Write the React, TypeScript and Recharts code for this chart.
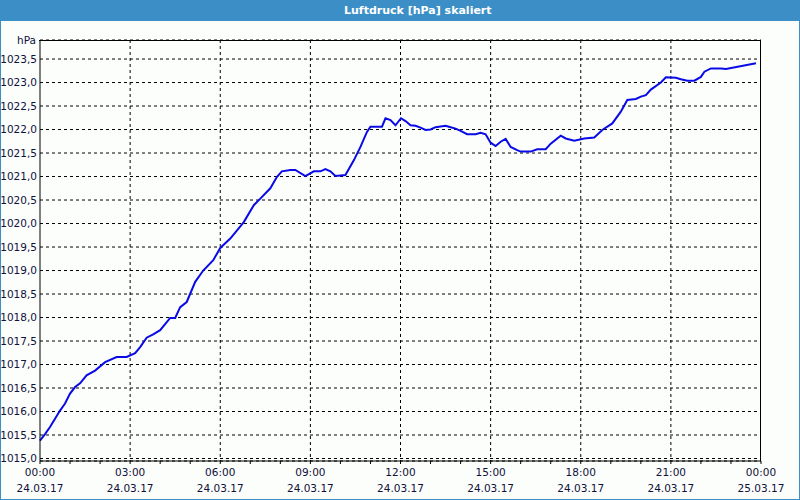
import React from 'react'
import { LineChart, XAxis, YAxis, CartesianGrid, Line } from 'recharts'

// minutes since 24.03.17 00:00
const minutes = [
  0, 10, 20, 40, 50, 60, 70, 80, 93, 110, 130, 153, 173, 190, 200, 213, 226, 240,
  260, 270, 280, 293, 310, 326, 346, 360, 380, 407, 427, 440, 460, 473, 483, 500,
  510, 530, 547, 560, 570, 580, 590, 610, 627, 640, 653, 660, 683, 690, 700, 710,
  721, 730, 740, 750, 760, 770, 780, 790, 810, 820, 830, 840, 853, 870, 880, 890,
  900, 910, 920, 930, 940, 953, 960, 980, 993, 1010, 1020, 1040, 1050, 1067, 1087,
  1107, 1123, 1143, 1160, 1173, 1190, 1200, 1210, 1220, 1240, 1250, 1270, 1280,
  1293, 1307, 1320, 1327, 1340, 1360, 1370, 1430,
]

const pressure = [
  1015.38, 1015.52, 1015.67, 1016.02, 1016.17, 1016.38, 1016.52, 1016.6, 1016.77,
  1016.87, 1017.05, 1017.16, 1017.16, 1017.24, 1017.37, 1017.57, 1017.64, 1017.73,
  1017.99, 1017.99, 1018.22, 1018.33, 1018.76, 1019.0, 1019.22, 1019.48, 1019.68,
  1020.03, 1020.39, 1020.53, 1020.75, 1020.99, 1021.11, 1021.14, 1021.14, 1021.01,
  1021.11, 1021.11, 1021.16, 1021.11, 1021.01, 1021.03, 1021.35, 1021.63, 1021.95,
  1022.06, 1022.06, 1022.24, 1022.2, 1022.09, 1022.24, 1022.18, 1022.09, 1022.08,
  1022.04, 1021.99, 1022.0, 1022.05, 1022.08, 1022.05, 1022.02, 1021.97, 1021.9,
  1021.9, 1021.93, 1021.9, 1021.72, 1021.65, 1021.74, 1021.8, 1021.63, 1021.56,
  1021.53, 1021.53, 1021.58, 1021.58, 1021.7, 1021.87, 1021.81, 1021.76, 1021.81,
  1021.83, 1021.99, 1022.13, 1022.38, 1022.63, 1022.65, 1022.7, 1022.73, 1022.85,
  1023.0, 1023.11, 1023.1, 1023.07, 1023.04, 1023.04, 1023.12, 1023.23, 1023.3,
  1023.3, 1023.29, 1023.41, 1023.39, 1023.46, 1023.48,
]

const yTicks = [
  1015.0, 1015.5, 1016.0, 1016.5, 1017.0, 1017.5, 1018.0, 1018.5, 1019.0,
  1019.5, 1020.0, 1020.5, 1021.0, 1021.5, 1022.0, 1022.5, 1023.0, 1023.5,
]

const hourTicks = [
  0, 60, 120, 180, 240, 300, 360, 420, 480, 540, 600, 660, 720, 780, 840, 900,
  960, 1020, 1080, 1140, 1200, 1260, 1320, 1380, 1440,
]
const gridMinutes = [180, 360, 540, 720, 900, 1080, 1260]
const tickTimes = ['00:00', '03:00', '06:00', '09:00', '12:00', '15:00', '18:00', '21:00', '00:00']
const tickDates = ['24.03.17', '24.03.17', '24.03.17', '24.03.17', '24.03.17', '24.03.17', '24.03.17', '24.03.17', '25.03.17']

const data = minutes.map((t, i) => ({ t, p: pressure[i] }))

const FONT = '"DejaVu Sans", Verdana, sans-serif'
const TEXT = '#10103a'

const TimeTick = (props: any) => {
  const { x, y, payload } = props
  if (payload.value % 180 !== 0) return <g />
  const i = payload.value / 180
  return (
    <g>
      <text x={x} y={y + 10} textAnchor="middle" fontSize={10.5} fontFamily={FONT} fill={TEXT}>
        {tickTimes[i]}
      </text>
      <text x={x} y={y + 26} textAnchor="middle" fontSize={10.5} fontFamily={FONT} fill={TEXT}>
        {tickDates[i]}
      </text>
    </g>
  )
}

export default function App() {
  return (
    <div style={Frame}>
      <div style={TitleBar}>Luftdruck [hPa] skaliert</div>
      <div style={UnitLabel}>hPa</div>
      <div style={ChartPos}>
        <LineChart
          width={798}
          height={478}
          data={data}
          margin={{ top: 19, right: 38, left: 0, bottom: 0 }}
        >
          <CartesianGrid
            stroke="#000"
            strokeDasharray="3 3"
            verticalValues={gridMinutes}
          />
          <XAxis
            dataKey="t"
            type="number"
            domain={[0, 1440]}
            ticks={hourTicks}
            interval={0}
            height={38}
            tickSize={3}
            tickMargin={2}
            stroke="#000"
            tick={<TimeTick />}
          />
          <YAxis
            type="number"
            domain={[1014.947, 1023.905]}
            ticks={yTicks}
            interval={0}
            width={39}
            tickSize={0}
            tickMargin={3}
            stroke="#000"
            tick={{ fontSize: 10.5, fontFamily: FONT, fill: TEXT }}
            tickFormatter={(v: number) => v.toFixed(1).replace('.', ',')}
          />
          <Line
            type="linear"
            dataKey="p"
            stroke="#0a0ae6"
            strokeWidth={2}
            dot={false}
            isAnimationActive={false}
          />
        </LineChart>
      </div>
      <div style={PlotBox} />
    </div>
  )
}

const Frame: React.CSSProperties = {
  position: 'absolute',
  left: 0,
  top: 0,
  width: 798,
  height: 499,
  background: '#fcfefc',
  borderLeft: '1px solid #3c8fc6',
  borderRight: '1px solid #3c8fc6',
  borderBottom: '1px solid #3c8fc6',
}

const TitleBar: React.CSSProperties = {
  height: 21,
  background: '#3c8fc6',
  color: '#fff',
  fontFamily: FONT,
  fontWeight: 'bold',
  fontSize: 11,
  lineHeight: '21px',
  paddingLeft: 344,
  margin: '0 -1px',
}

const ChartPos: React.CSSProperties = {
  position: 'absolute',
  left: 0,
  top: 21,
}

const PlotBox: React.CSSProperties = {
  position: 'absolute',
  left: 38,
  top: 40,
  width: 721,
  height: 420,
  borderTop: '1px solid #000',
  borderRight: '1px solid #000',
  pointerEvents: 'none',
}

const UnitLabel: React.CSSProperties = {
  position: 'absolute',
  left: 16,
  top: 34,
  fontFamily: FONT,
  fontSize: 10.5,
  color: TEXT,
}
